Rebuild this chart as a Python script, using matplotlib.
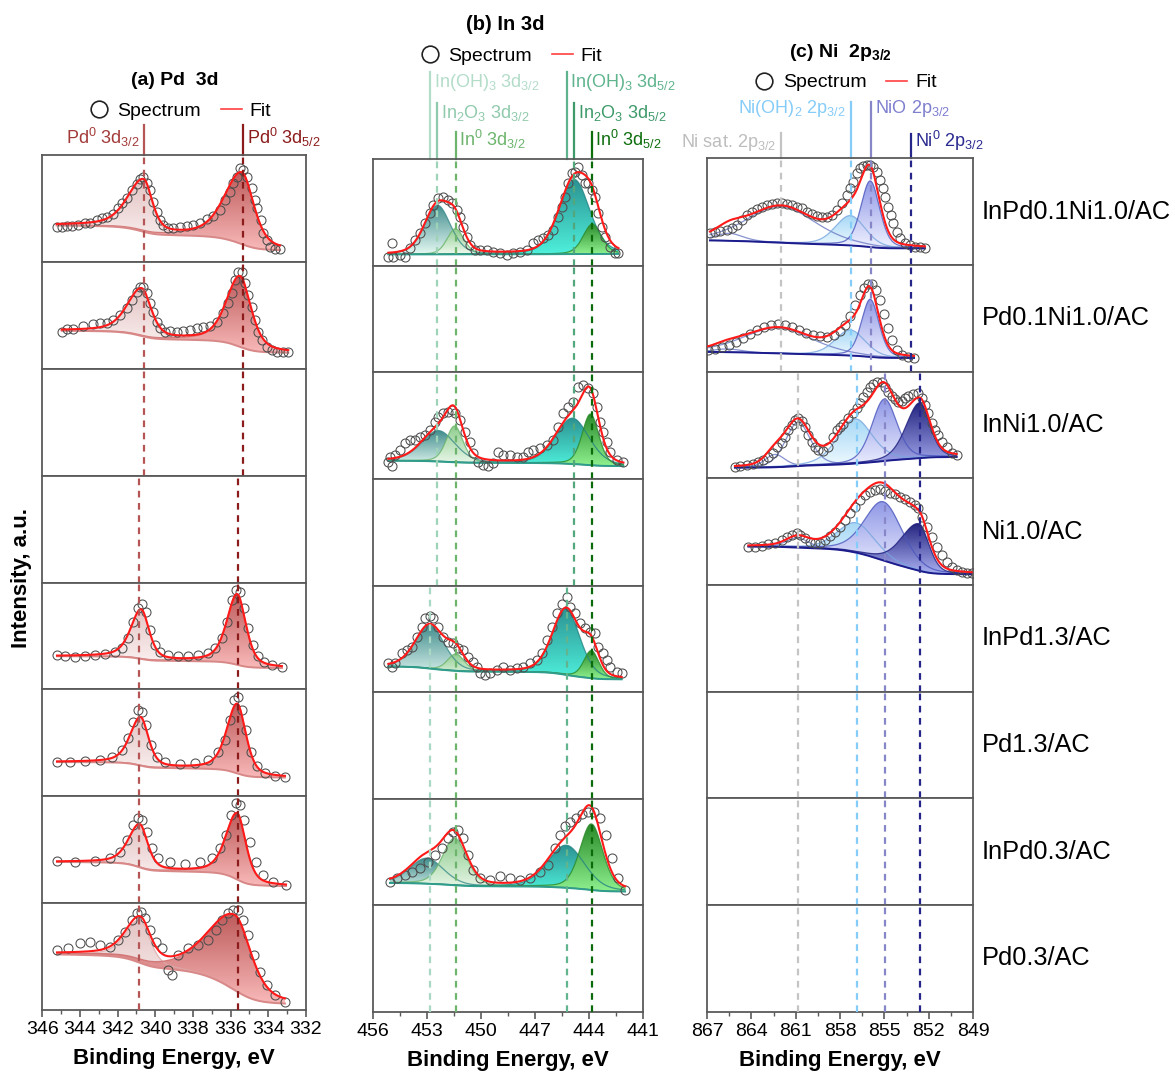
import numpy as np
import matplotlib.pyplot as plt
import matplotlib.transforms as mtransforms
from matplotlib.colors import LinearSegmentedColormap
from matplotlib.lines import Line2D
from matplotlib.patches import Polygon

plt.rcParams['font.family'] = ['Liberation Sans', 'DejaVu Sans']
plt.rcParams['mathtext.fontset'] = 'custom'
plt.rcParams['mathtext.rm'] = 'Liberation Sans'
plt.rcParams['mathtext.it'] = 'Liberation Sans:italic'
plt.rcParams['mathtext.bf'] = 'Liberation Sans:bold'

samples = ['InPd0.1Ni1.0/AC', 'Pd0.1Ni1.0/AC', 'InNi1.0/AC', 'Ni1.0/AC',
           'InPd1.3/AC', 'Pd1.3/AC', 'InPd0.3/AC', 'Pd0.3/AC']

# ---------------- (a) Pd 3d : binding energy (eV), intensity (a.u.) ----------------
pd1_E = [345.24, 344.97, 344.71, 344.44, 344.09, 343.74, 343.47, 343.11, 342.85, 342.58,
         342.23, 341.96, 341.79, 341.52, 341.26, 340.99, 340.81, 340.64, 340.46, 340.28,
         340.11, 339.93, 339.75, 339.58, 339.31, 339.05, 338.69, 338.34, 337.98, 337.63,
         337.28, 336.92, 336.57, 336.30, 336.04, 335.86, 335.68, 335.51, 335.33, 335.15,
         334.89, 334.71, 334.59, 334.41, 334.27, 334.09, 333.91, 333.65, 333.38]
pd1_I = [33.0, 33.0, 33.9, 33.9, 34.5, 36.1, 36.7, 39.2, 40.7, 42.3,
         44.8, 50.1, 54.8, 59.5, 67.3, 72.9, 77.2, 79.7, 74.1, 67.3,
         56.3, 47.0, 39.2, 34.5, 31.4, 31.4, 33.0, 33.6, 34.5, 36.1,
         39.8, 42.9, 48.6, 57.9, 65.7, 73.5, 79.7, 87.5, 86.0, 79.7,
         68.8, 57.9, 50.1, 39.2, 26.7, 20.5, 14.2, 11.8, 11.8]
pd1_peaks = [('Pd 3d3/2', 340.62, 48, 2.0, 1.1), ('Pd 3d5/2', 335.40, 67, 2.2, 1.5)]
pd1_bg = (34, 11)

pd2_E = [344.97, 344.71, 344.35, 343.82, 343.29, 342.94, 342.58, 342.23, 341.88, 341.52,
         341.25, 340.99, 340.81, 340.64, 340.46, 340.29, 340.11, 339.93, 339.76, 339.49,
         339.22, 338.87, 338.51, 338.16, 337.81, 337.45, 337.10, 336.74, 336.39, 336.13,
         335.95, 335.77, 335.60, 335.42, 335.24, 335.06, 334.89, 334.71, 334.53, 334.36,
         334.09, 333.82, 333.56, 333.20, 332.94]
pd2_I = [34.7, 36.9, 36.9, 40.0, 41.9, 42.5, 43.2, 45.6, 50.3, 56.6,
         64.4, 72.2, 76.8, 76.8, 70.6, 61.2, 53.4, 44.0, 37.9, 34.7,
         35.7, 34.7, 35.7, 36.3, 37.9, 38.8, 40.0, 44.0, 51.9, 61.2,
         70.6, 83.1, 90.9, 90.9, 80.0, 69.0, 58.1, 45.6, 34.7, 26.9,
         20.7, 17.6, 16.0, 16.0, 15.4]
pd2_peaks = [('Pd 3d3/2', 340.72, 44, 1.8, 1.2), ('Pd 3d5/2', 335.50, 66, 1.7, 1.4)]
pd2_bg = (35.5, 15)

pd5_E = [345.22, 344.80, 344.26, 343.73, 343.20, 342.67, 342.14, 341.77, 341.45, 341.18,
         340.92, 340.71, 340.49, 340.28, 340.02, 339.75, 339.33, 338.80, 338.27, 337.74,
         337.21, 336.84, 336.46, 336.20, 335.93, 335.72, 335.51, 335.30, 335.08, 334.82,
         334.55, 334.23, 333.81, 333.28]
pd5_I = [32.3, 31.2, 30.3, 31.2, 32.2, 33.1, 35.0, 38.7, 48.0, 63.0,
         76.1, 79.9, 72.4, 55.5, 41.5, 35.0, 32.2, 31.2, 31.2, 32.2,
         34.0, 38.7, 48.0, 63.0, 83.6, 92.9, 91.0, 76.1, 57.4, 41.5,
         31.2, 25.6, 22.8, 20.9]
pd5_peaks = [('Pd 3d3/2', 340.75, 46, 1.3, 1.0), ('Pd 3d5/2', 335.65, 66, 1.3, 1.1)]
pd5_bg = (31, 20)

pd6_E = [345.22, 344.53, 343.73, 342.94, 342.30, 341.77, 341.45, 341.19, 340.92, 340.71,
         340.50, 340.23, 339.91, 339.49, 338.69, 337.90, 337.21, 336.68, 336.30, 336.04,
         335.82, 335.61, 335.40, 335.19, 334.92, 334.60, 334.18, 333.65, 333.12]
pd6_I = [32.1, 32.1, 33.0, 34.0, 36.8, 43.3, 54.5, 69.5, 80.7, 78.9,
         66.7, 48.0, 36.8, 32.1, 30.2, 31.2, 34.0, 41.4, 52.7, 71.4,
         90.2, 93.0, 80.7, 62.0, 41.4, 28.3, 21.8, 19.0, 18.1]
pd6_peaks = [('Pd 3d3/2', 340.78, 45, 1.3, 1.0), ('Pd 3d5/2', 335.65, 65, 1.3, 1.1)]
pd6_bg = (32, 17.5)

pd7_E = [345.22, 344.26, 343.20, 342.41, 341.87, 341.50, 341.18, 340.92, 340.71, 340.44,
         340.18, 339.86, 339.22, 338.43, 337.63, 336.99, 336.57, 336.25, 335.98, 335.72,
         335.51, 335.30, 334.97, 334.65, 334.28, 333.75, 333.06]
pd7_I = [39.4, 38.4, 39.4, 42.2, 47.8, 59.0, 73.1, 79.6, 77.7, 66.5,
         51.5, 42.2, 38.4, 36.6, 38.4, 42.2, 51.5, 63.7, 82.4, 93.6,
         91.8, 77.7, 57.2, 38.4, 26.3, 19.7, 16.9]
pd7_peaks = [('Pd 3d3/2', 340.82, 40, 1.4, 1.0), ('Pd 3d5/2', 335.65, 62, 1.4, 1.1)]
pd7_bg = (38.5, 16)

pd8_E = [345.22, 344.64, 344.00, 343.47, 342.94, 342.41, 341.98, 341.61, 341.24, 340.97,
         340.76, 340.55, 340.28, 339.96, 339.65, 339.33, 339.12, 338.80, 338.27, 337.74,
         337.21, 336.78, 336.47, 336.15, 335.88, 335.61, 335.35, 335.08, 334.76, 334.44,
         334.07, 333.65, 333.12]
pd8_I = [56.1, 58.0, 62.7, 63.6, 60.8, 58.9, 65.5, 73.0, 84.2, 90.7,
         91.7, 86.1, 74.8, 63.6, 58.0, 37.4, 32.7, 51.4, 58.0, 60.8,
         65.5, 74.8, 84.2, 90.7, 93.5, 93.5, 84.2, 70.2, 51.4, 35.5,
         23.4, 14.0, 7.5]
pd8_peaks = [('Pd 3d3/2', 340.80, 40, 1.8, 1.3), ('Pd 3d5/2', 335.75, 70, 3.4, 2.0)]
pd8_bg = (52, 6)

# ---------------- (b) In 3d ----------------
in1_E = [455.13, 454.95, 454.85, 454.48, 454.21, 453.93, 453.65, 453.37, 453.09, 452.82,
         452.63, 452.35, 452.08, 451.80, 451.61, 451.34, 451.15, 450.96, 450.78, 450.59,
         450.32, 450.04, 449.67, 449.30, 448.93, 448.56, 448.18, 447.81, 447.44, 447.07,
         446.79, 446.52, 446.24, 445.96, 445.68, 445.50, 445.31, 445.13, 444.94, 444.76,
         444.57, 444.39, 444.20, 444.02, 443.83, 443.65, 443.46, 443.28, 443.09, 442.81,
         442.54, 442.35]
in1_I = [8.4, 20.9, 8.4, 9.9, 8.4, 16.2, 24.0, 30.3, 39.6, 49.0,
         56.8, 63.1, 64.7, 61.5, 58.4, 52.2, 45.9, 36.5, 27.1, 19.3,
         14.6, 14.6, 14.6, 13.1, 11.5, 9.9, 11.5, 13.1, 14.6, 20.9,
         24.0, 25.6, 28.7, 33.4, 45.9, 55.3, 64.7, 77.2, 86.6, 88.1,
         92.8, 85.0, 77.2, 77.2, 70.9, 64.7, 49.0, 36.5, 27.1, 17.7,
         11.5, 11.5]
in1_peaks = [('In ox 3d3/2', 452.40, 46, 1.7, 1.7), ('In0 3d3/2', 451.40, 24, 1.1, 1.1),
             ('In ox 3d5/2', 444.80, 70, 2.0, 2.0), ('In0 3d5/2', 443.80, 28, 1.2, 1.2)]
in1_bg = (10.5, 11)

in3_E = [455.13, 455.04, 454.95, 454.76, 454.48, 454.21, 453.93, 453.65, 453.37, 453.09,
         452.82, 452.54, 452.35, 452.07, 451.80, 451.61, 451.43, 451.15, 450.87, 450.59,
         450.41, 450.13, 449.85, 449.58, 449.30, 449.02, 448.74, 448.37, 448.00, 447.63,
         447.35, 447.08, 446.70, 446.33, 445.96, 445.69, 445.41, 445.13, 444.86, 444.58,
         444.30, 444.02, 443.74, 443.56, 443.37, 443.19, 443.00, 442.82, 442.45, 442.07]
in3_I = [16.2, 20.9, 12.1, 22.3, 27.1, 33.4, 36.5, 36.5, 39.0, 41.2,
         45.9, 53.7, 58.4, 61.5, 63.1, 64.6, 61.5, 55.3, 44.3, 34.9,
         24.0, 16.2, 13.0, 12.1, 14.6, 25.5, 22.4, 22.4, 20.9, 20.9,
         25.5, 27.1, 28.7, 31.8, 36.5, 49.0, 61.5, 67.8, 72.5, 86.5,
         88.1, 85.0, 80.3, 67.8, 53.7, 44.3, 34.9, 25.5, 17.7, 16.2]
in3_peaks = [('In ox 3d3/2', 452.35, 29, 2.2, 2.2), ('In0 3d3/2', 451.45, 34, 1.1, 1.1),
             ('In ox 3d5/2', 444.90, 43, 2.2, 2.2), ('In0 3d5/2', 443.90, 48, 1.1, 1.1)]
in3_bg = (17, 12)

in5_E = [455.13, 454.94, 454.76, 454.39, 454.11, 453.84, 453.56, 453.28, 453.09, 452.82,
         452.63, 452.35, 452.07, 451.80, 451.52, 451.24, 450.96, 450.69, 450.41, 450.22,
         450.04, 449.76, 449.48, 449.11, 448.74, 448.37, 448.00, 447.63, 447.26, 446.89,
         446.61, 446.33, 446.06, 445.78, 445.50, 445.23, 445.04, 444.76, 444.48, 444.21,
         443.93, 443.65, 443.46, 443.19, 443.00, 442.82, 442.45, 442.17]
in5_I = [27.0, 23.9, 27.0, 36.4, 39.5, 42.6, 52.0, 61.4, 69.2, 71.4,
         69.2, 61.4, 52.0, 47.3, 45.7, 41.1, 39.5, 33.2, 28.5, 23.9,
         17.6, 16.0, 18.2, 20.7, 23.9, 20.7, 22.3, 23.9, 27.0, 30.1,
         36.4, 48.9, 61.4, 73.9, 82.6, 89.5, 80.1, 73.9, 64.5, 59.8,
         56.7, 55.1, 42.6, 36.4, 30.1, 23.9, 19.2, 17.6]
in5_peaks = [('In ox 3d3/2', 452.82, 41, 1.9, 1.9), ('In0 3d3/2', 451.37, 16, 1.1, 1.1),
             ('In ox 3d5/2', 445.25, 62, 1.8, 1.8), ('In0 3d5/2', 443.85, 26, 1.0, 1.0)]
in5_bg = (24, 12)

in7_E = [455.04, 454.65, 454.21, 453.82, 453.37, 452.93, 452.54, 452.15, 451.82, 451.54,
         451.26, 450.98, 450.71, 450.43, 450.04, 449.48, 448.93, 448.37, 447.82, 447.26,
         446.71, 446.26, 445.87, 445.59, 445.32, 445.04, 444.71, 444.37, 444.04, 443.71,
         443.37, 443.04, 442.71, 442.37, 441.98]
in7_I = [22.0, 25.7, 28.5, 31.3, 35.1, 40.7, 47.3, 53.8, 63.2, 68.9,
         70.7, 63.2, 47.3, 33.2, 25.7, 23.8, 27.6, 25.7, 23.8, 25.7,
         31.3, 37.9, 53.8, 66.0, 74.5, 78.2, 82.0, 85.7, 87.6, 87.6,
         82.0, 66.0, 44.5, 25.7, 14.4]
in7_peaks = [('In ox 3d3/2', 453.00, 24, 2.2, 2.2), ('In0 3d3/2', 451.45, 44, 1.6, 1.6),
             ('In ox 3d5/2', 445.25, 40, 2.4, 2.4), ('In0 3d5/2', 443.85, 62, 1.5, 1.5)]
in7_bg = (21, 13)

# ---------------- (c) Ni 2p3/2 ----------------
ni1_E = [866.80, 866.46, 866.12, 865.67, 865.33, 864.99, 864.65, 864.32, 863.98, 863.64,
         863.30, 862.96, 862.62, 862.29, 861.95, 861.61, 861.27, 860.93, 860.59, 860.26,
         859.92, 859.58, 859.24, 858.90, 858.57, 858.23, 857.89, 857.55, 857.33, 857.10,
         856.87, 856.65, 856.42, 856.20, 855.97, 855.75, 855.52, 855.30, 855.11, 854.93,
         854.75, 854.57, 854.39, 854.16, 853.94, 853.60, 853.26, 852.93, 852.59, 852.25]
ni1_I = [29.7, 31.3, 32.2, 32.8, 34.4, 37.5, 42.2, 46.9, 50.0, 52.2,
         54.7, 56.3, 57.2, 57.8, 57.8, 57.2, 56.3, 54.7, 53.1, 50.0,
         47.8, 45.9, 45.3, 44.7, 46.9, 51.6, 57.8, 65.6, 71.9, 78.1,
         85.9, 90.6, 92.8, 93.8, 93.8, 92.2, 87.5, 79.7, 71.9, 64.1,
         54.7, 46.9, 39.1, 31.3, 25.0, 20.3, 18.8, 17.2, 16.6, 15.6]
ni1_peaks = [('Ni sat', 862.0, 34, 5.5, 5.5), ('Ni sat', 865.5, 7, 2.2, 2.2),
             ('Ni(OH)2', 857.30, 28, 2.4, 2.4), ('NiO', 855.95, 62, 1.5, 1.5)]
ni1_bg = (23, 15.5)

ni2_E = [866.93, 866.46, 865.99, 865.51, 865.04, 864.56, 864.09, 863.62, 863.14, 862.67,
         862.20, 861.72, 861.25, 860.78, 860.30, 859.83, 859.35, 858.88, 858.41, 858.00,
         857.66, 857.33, 856.99, 856.65, 856.38, 856.11, 855.84, 855.57, 855.30, 855.03,
         854.75, 854.48, 854.14, 853.81, 853.40, 852.99]
ni2_I = [20.3, 21.3, 23.1, 25.0, 27.8, 31.6, 35.3, 39.1, 41.9, 43.8,
         44.7, 43.8, 41.9, 39.1, 36.1, 34.4, 33.4, 32.5, 34.4, 38.1,
         43.8, 52.2, 62.5, 71.9, 78.5, 82.2, 82.2, 76.6, 67.2, 53.9,
         40.9, 29.7, 20.3, 15.6, 13.8, 12.8]
ni2_peaks = [('Ni sat', 862.2, 24, 5.5, 5.5), ('Ni sat', 865.6, 3, 2.2, 2.2),
             ('Ni(OH)2', 857.30, 24, 2.4, 2.4), ('NiO', 855.95, 54, 1.4, 1.4)]
ni2_bg = (18.5, 12.8)

ni3_E = [865.11, 864.77, 864.32, 863.87, 863.53, 863.19, 862.85, 862.51, 862.24, 861.95,
         861.72, 861.50, 861.27, 861.05, 860.82, 860.59, 860.37, 860.14, 859.92, 859.69,
         859.47, 859.13, 858.79, 858.45, 858.23, 858.00, 857.78, 857.44, 857.10, 856.87,
         856.65, 856.42, 856.20, 855.97, 855.75, 855.52, 855.18, 854.96, 854.73, 854.51,
         854.28, 854.05, 853.83, 853.60, 853.38, 853.04, 852.70, 852.48, 852.25, 852.02,
         851.80, 851.57, 851.35, 851.12, 850.78, 850.45, 850.11]
ni3_I = [10.4, 11.6, 12.6, 13.5, 15.7, 17.3, 20.4, 24.1, 29.1, 32.9,
         38.5, 45.4, 50.1, 54.8, 56.3, 54.1, 48.5, 40.7, 34.4, 29.1,
         26.6, 26.0, 29.1, 39.1, 45.4, 48.5, 51.0, 56.3, 61.0, 65.7,
         70.4, 76.0, 81.3, 85.4, 88.5, 90.7, 90.7, 86.0, 81.3, 77.3,
         74.1, 71.9, 72.9, 75.1, 77.3, 79.1, 79.8, 75.1, 68.8, 61.0,
         51.6, 45.4, 40.7, 34.4, 29.1, 24.1, 21.9]
ni3_peaks = [('Ni sat', 860.85, 41, 2.0, 2.0), ('Ni sat', 862.4, 12, 1.6, 1.6),
             ('Ni(OH)2', 857.00, 42, 2.8, 2.8), ('NiO', 855.00, 58, 2.0, 2.0),
             ('Ni0', 852.60, 52, 2.2, 1.6)]
ni3_bg = (10, 20)

ni4_E = [864.20, 863.75, 863.30, 862.85, 862.40, 861.95, 861.61, 861.27, 860.93, 860.71,
         860.37, 860.03, 859.69, 859.35, 859.02, 858.68, 858.34, 858.00, 857.66, 857.32,
         856.99, 856.65, 856.31, 855.97, 855.63, 855.30, 854.96, 854.62, 854.28, 853.94,
         853.60, 853.27, 852.93, 852.70, 852.48, 852.14, 851.80, 851.46, 851.12, 850.78,
         850.45, 850.11, 849.77, 849.43, 849.09]
ni4_I = [35.3, 35.9, 36.6, 38.1, 39.7, 42.2, 44.7, 47.2, 48.4, 46.9,
         43.8, 40.6, 39.1, 39.7, 42.2, 45.9, 50.0, 54.7, 60.9, 67.2,
         73.4, 79.7, 84.4, 87.5, 89.1, 89.7, 88.4, 86.6, 85.3, 82.8,
         80.3, 78.1, 75.0, 71.9, 64.1, 54.7, 45.3, 35.9, 28.1, 21.9,
         17.2, 14.1, 12.5, 11.6, 10.9]
ni4_peaks = [('Ni sat', 860.85, 9, 1.8, 1.8), ('Ni(OH)2', 856.90, 28, 3.0, 3.0),
             ('NiO', 855.05, 55, 3.0, 3.0), ('Ni0', 852.65, 44, 2.8, 1.6)]
ni4_bg = (36, 10)

# reference energies of the dashed guide lines (eV)
pd_ref_upper = [340.60, 335.33]
pd_ref_lower = [340.89, 335.60]
in_ohx = [452.82, 445.22]      # In(OH)3 3d3/2, 3d5/2
in_oxide = [452.41, 444.82]    # In2O3
in_metal = [451.39, 443.83]    # In0
ni_ref_upper = [862.00, 857.28, 855.90, 853.22]   # sat, Ni(OH)2, NiO, Ni0
ni_ref_lower = [860.86, 856.87, 854.96, 852.59]

pd_spectra = [(pd1_E, pd1_I, pd1_peaks, pd1_bg), (pd2_E, pd2_I, pd2_peaks, pd2_bg), None, None,
              (pd5_E, pd5_I, pd5_peaks, pd5_bg), (pd6_E, pd6_I, pd6_peaks, pd6_bg),
              (pd7_E, pd7_I, pd7_peaks, pd7_bg), (pd8_E, pd8_I, pd8_peaks, pd8_bg)]
in_spectra = [(in1_E, in1_I, in1_peaks, in1_bg), None, (in3_E, in3_I, in3_peaks, in3_bg), None,
              (in5_E, in5_I, in5_peaks, in5_bg), None, (in7_E, in7_I, in7_peaks, in7_bg), None]
ni_spectra = [(ni1_E, ni1_I, ni1_peaks, ni1_bg), (ni2_E, ni2_I, ni2_peaks, ni2_bg),
              (ni3_E, ni3_I, ni3_peaks, ni3_bg), (ni4_E, ni4_I, ni4_peaks, ni4_bg),
              None, None, None, None]

# component styles: (gradient top, gradient bottom, outline)
styles = {
    'Pd 3d3/2': ('#e4c4c4', '#fdf5f5', '#dcaaaa'),
    'Pd 3d5/2': ('#be5c5c', '#f9b9b9', '#cf6a6a'),
    'In ox 3d3/2': ('#3f8c8c', '#e4f8f2', '#3a8a8a'),
    'In0 3d3/2': ('#8dcc8d', '#eef9ee', '#6ab46a'),
    'In ox 3d5/2': ('#2c9292', '#4ef0dc', '#248484'),
    'In0 3d5/2': ('#2a8a2a', '#8ef08e', '#2a8a2a'),
    'Ni sat': (None, None, '#6a78c4'),
    'Ni(OH)2': ('#a6d8f6', '#f2fbff', '#78a6de'),
    'NiO': ('#9098e6', '#eef0ff', '#4a56bc'),
    'Ni0': ('#23237e', '#aab0f2', '#1c1c7c'),
}

W, H = 1175, 1075
fig = plt.figure(figsize=(W / 100, H / 100), dpi=100)


def make_column(left, right, top, bottom, xlim, major, minor):
    h = (bottom - top) / 8
    axes = []
    for i in range(8):
        ax = fig.add_axes([left / W, 1 - (top + (i + 1) * h) / H, (right - left) / W, h / H])
        ax.set_xlim(*xlim)
        ax.set_ylim(0, 100)
        ax.set_yticks([])
        for s in ax.spines.values():
            s.set_color('#5a5a5a')
            s.set_linewidth(1.3)
        if i < 7:
            ax.tick_params(axis='x', bottom=False, labelbottom=False)
        else:
            ax.set_xticks(major)
            ax.set_xticks(minor, minor=True)
            ax.tick_params(axis='x', which='major', direction='out', length=5, width=1.2,
                           color='#5a5a5a', labelsize=14, pad=3)
            ax.tick_params(axis='x', which='minor', direction='out', length=3, width=1.0,
                           color='#5a5a5a')
            ax.set_xlabel('Binding Energy, eV', fontsize=16, fontweight='bold', labelpad=7)
        axes.append(ax)
    return axes


def pv(E, c, h, w_hi, w_lo, eta):
    hw = np.where(E >= c, w_hi, w_lo) / 2.0
    x = (E - c) / hw
    return h * (eta / (1 + x ** 2) + (1 - eta) * np.exp(-np.log(2) * x ** 2))


def grad_fill(ax, x, lo, hi, c_top, c_bot, z):
    verts = np.vstack([np.c_[x, hi], np.c_[x[::-1], lo[::-1]]])
    patch = Polygon(verts, closed=True, fc='none', ec='none')
    ax.add_patch(patch)
    cmap = LinearSegmentedColormap.from_list('g', [c_bot, c_top])
    im = ax.imshow(np.linspace(0, 1, 256)[:, None], cmap=cmap, aspect='auto', origin='lower',
                   extent=(x.min(), x.max(), lo.min(), hi.max()), zorder=z,
                   interpolation='bilinear')
    im.set_clip_path(patch)


def draw_column(axes, spectra, eta, bg_color, xlim):
    for ax, spec in zip(axes, spectra):
        if spec is None:
            continue
        E, I, peaks, bg_ends = spec
        grid = np.linspace(min(E), max(E), 900)
        comps = [pv(grid, c, h, wh, wl, eta) for _, c, h, wh, wl in peaks]
        total = np.sum(comps, axis=0)
        cum = np.cumsum(total)
        bg = bg_ends[1] + (bg_ends[0] - bg_ends[1]) * cum / cum[-1]
        for k, (pk, comp) in enumerate(zip(peaks, comps)):
            top, bot, line = styles[pk[0]]
            if top is not None:
                grad_fill(ax, grid, bg, bg + comp, top, bot, 1 + 0.01 * k)
            ax.plot(grid, bg + comp, color=line, lw=0.9, alpha=0.8, zorder=1.5)
        ax.plot(grid, bg, color=bg_color, lw=1.4, zorder=2)
        ax.plot(E, I, 'o', ms=6.5, mfc='none', mec='#4d4d4d', mew=0.75, zorder=3)
        ax.plot(grid, bg + total, color='#ff1a1a', lw=1.5, zorder=4)
        ax.set_xlim(*xlim)
        ax.set_ylim(0, 100)


def guide(ax, energy, color, y_top):
    tr = mtransforms.blended_transform_factory(ax.transData, ax.transAxes)
    ax.plot([energy, energy], [1.0, y_top], color=color, lw=1.6, transform=tr, clip_on=False)
    return tr


def legend(ax, x, y):
    handles = [Line2D([], [], marker='o', ms=12, mfc='none', mec='#222222', mew=1.2, ls='none'),
               Line2D([], [], color='#ff4040', lw=1.2)]
    ax.legend(handles, ['Spectrum', 'Fit'], loc='center', bbox_to_anchor=(x, y),
              bbox_transform=ax.transAxes, ncol=2, frameon=False, fontsize=14,
              handlelength=1.1, handletextpad=0.4, columnspacing=1.0, borderpad=0)


dash = (0, (3, 2.5))

# ---- column (a)
ax_a = make_column(42.3, 306, 155, 1010, (346, 332), np.arange(332, 347, 2), np.arange(332, 347, 1))
draw_column(ax_a, pd_spectra, 0.5, '#d98888', (346, 332))
pd_cols = ['#b55555', '#8c1c1c']
for i, ax in enumerate(ax_a):
    refs = pd_ref_upper if i < 3 else pd_ref_lower
    for e, c in zip(refs, pd_cols):
        ax.axvline(e, color=c, lw=1.6, ls=dash, zorder=5)
t = ax_a[0]
tr = guide(t, pd_ref_upper[0], pd_cols[0], 1.28)
t.text(pd_ref_upper[0] + 0.2, 1.103, r'Pd$^0$ 3d$_{3/2}$', color='#a33a3a', transform=tr,
       ha='right', va='baseline', fontsize=13)
tr = guide(t, pd_ref_upper[1], pd_cols[1], 1.28)
t.text(pd_ref_upper[1] - 0.2, 1.103, r'Pd$^0$ 3d$_{5/2}$', color='#8c1c1c', transform=tr,
       ha='left', va='baseline', fontsize=13)
legend(t, 0.522, 1.411)
t.text(0.503, 1.696, '(a) Pd  3d', transform=t.transAxes, ha='center', va='center',
       fontsize=14, fontweight='bold')

# ---- column (b)
ax_b = make_column(372.7, 642.7, 159, 1012, (456, 441), np.arange(441, 457, 3), np.arange(441, 457, 1.5))
draw_column(ax_b, in_spectra, 0.3, '#2f9c8c', (456, 441))
for i, ax in enumerate(ax_b):
    if i < 4:
        pairs = [(in_oxide[0], '#9fd3b8'), (in_metal[0], '#6db46d'),
                 (in_oxide[1], '#52a87c'), (in_metal[1], '#0b6b0b')]
    else:
        pairs = [(in_ohx[0], '#a9d9c4'), (in_metal[0], '#6db46d'),
                 (in_ohx[1], '#62b48e'), (in_metal[1], '#0b6b0b')]
    for e, c in pairs:
        ax.axvline(e, color=c, lw=1.6, ls=dash, zorder=5)
t = ax_b[0]
labels_b = [(in_ohx[0], '#b3dcc9', r'In(OH)$_3$ 3d$_{3/2}$', 1.816, 1.673),
            (in_oxide[0], '#90caac', r'In$_2$O$_3$ 3d$_{3/2}$', 1.525, 1.382),
            (in_metal[0], '#6db46d', r'In$^0$ 3d$_{3/2}$', 1.253, 1.125),
            (in_ohx[1], '#5fb48e', r'In(OH)$_3$ 3d$_{5/2}$', 1.816, 1.673),
            (in_oxide[1], '#3e9a6a', r'In$_2$O$_3$ 3d$_{5/2}$', 1.525, 1.382),
            (in_metal[1], '#0e6e0e', r'In$^0$ 3d$_{5/2}$', 1.253, 1.125)]
for e, c, txt, ytop, ytxt in labels_b:
    tr = guide(t, e, c, ytop)
    t.text(e - 0.2, ytxt, txt, color=c, transform=tr, ha='left', va='baseline', fontsize=13)
legend(t, 0.512, 1.962)
t.text(0.49, 2.266, '(b) In 3d', transform=t.transAxes, ha='center', va='center',
       fontsize=14.5, fontweight='bold')

# ---- column (c)
ax_c = make_column(707, 973, 158.3, 1011.7, (867, 849), np.arange(849, 868, 3), np.arange(849, 868, 1.5))
draw_column(ax_c, ni_spectra, 0.3, '#1c1c8c', (867, 849))
ni_cols = ['#c4c4c4', '#86ccf8', '#8686c8', '#26268a']
for i, ax in enumerate(ax_c):
    refs = ni_ref_upper if i < 2 else ni_ref_lower
    for e, c in zip(refs, ni_cols):
        ax.axvline(e, color=c, lw=1.6, ls=dash, zorder=5)
t = ax_c[0]
labels_c = [(ni_ref_upper[0], '#c4c4c4', '#bdbdbd', r'Ni sat. 2p$_{3/2}$', 1.234, 1.103, 'right'),
            (ni_ref_upper[1], '#86ccf8', '#86ccf8', r'Ni(OH)$_2$ 2p$_{3/2}$', 1.53, 1.422, 'right'),
            (ni_ref_upper[2], '#8686c8', '#7f7fcf', r'NiO 2p$_{3/2}$', 1.53, 1.422, 'left'),
            (ni_ref_upper[3], '#26268a', '#2a2a90', r'Ni$^0$ 2p$_{3/2}$', 1.225, 1.109, 'left')]
for e, lc, tc, txt, ytop, ytxt, ha in labels_c:
    tr = guide(t, e, lc, ytop)
    dx = 0.3 if ha == 'right' else -0.3
    t.text(e + dx, ytxt, txt, color=tc, transform=tr, ha=ha, va='baseline', fontsize=13)
legend(t, 0.519, 1.71)
t.text(0.5, 1.996, r'(c) Ni  2p$_\mathbf{3/2}$', transform=t.transAxes, ha='center', va='center',
       fontsize=14, fontweight='bold')

# sample names on the right
for ax, name in zip(ax_c, samples):
    bb = ax.get_position()
    fig.text(982 / W, (bb.y0 + bb.y1) / 2, name, ha='left', va='center', fontsize=18.3)

fig.text(22 / W, 1 - 578 / H, 'Intensity, a.u.', rotation=90, ha='center', va='center',
         fontsize=16, fontweight='bold')

fig.savefig('out.png', dpi=100)
